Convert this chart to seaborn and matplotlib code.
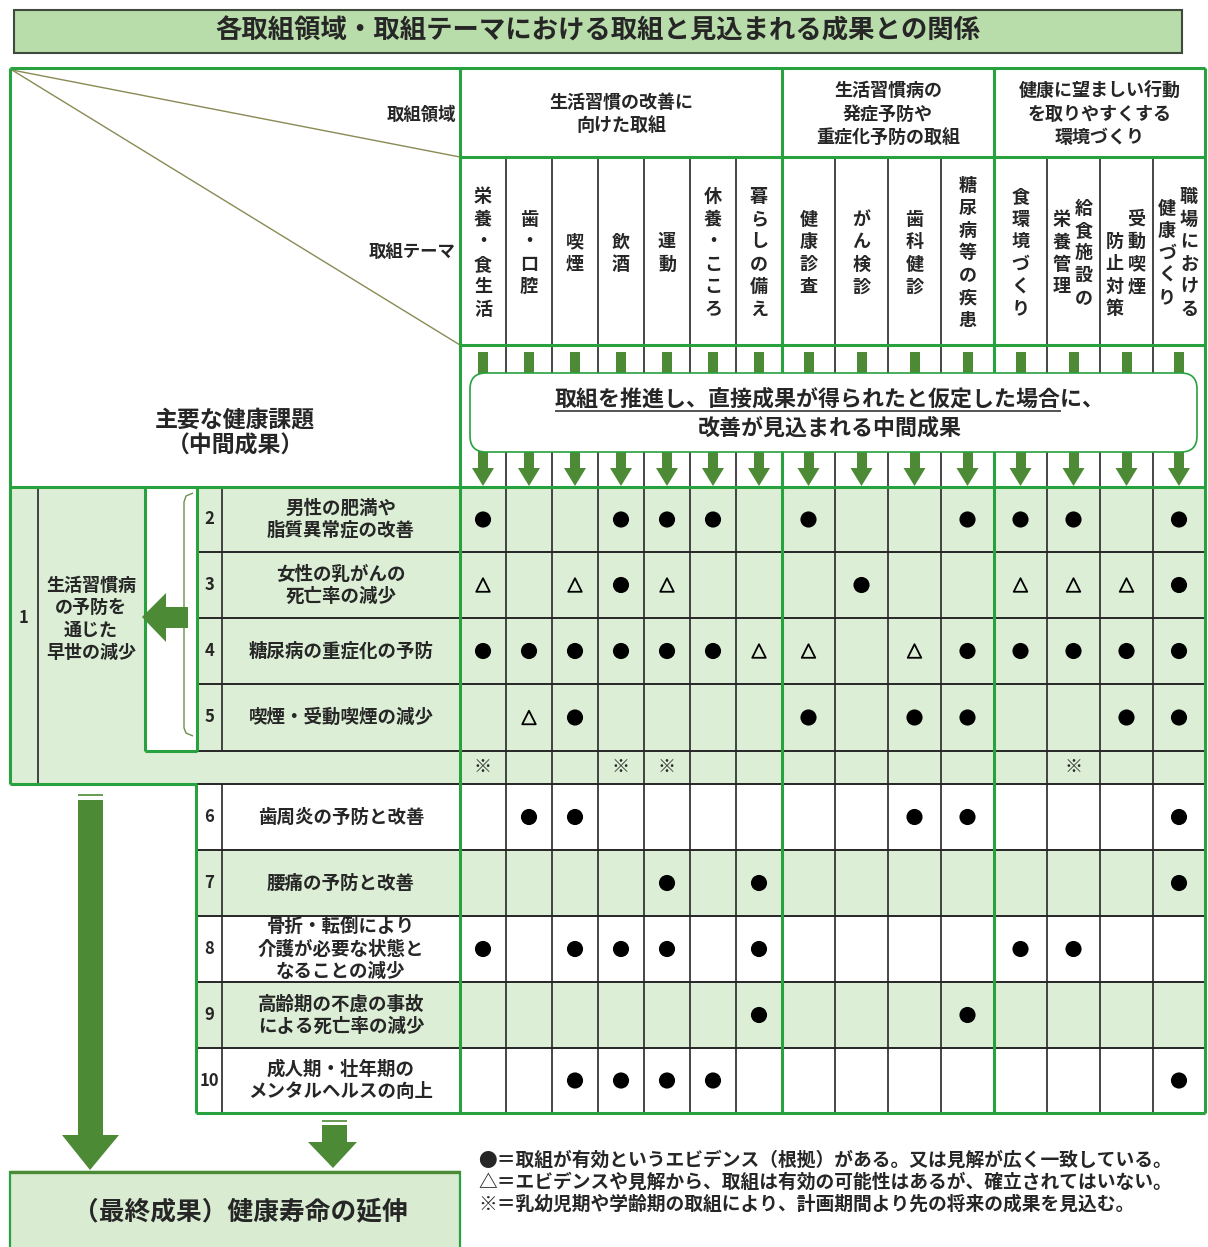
import matplotlib
matplotlib.use('Agg')
import matplotlib.pyplot as plt
import matplotlib.patches as mpatches
import pandas as pd
import seaborn as sns

# ---- data ----
title = '各取組領域・取組テーマにおける取組と見込まれる成果との関係'
areas = ['生活習慣の改善に\n向けた取組',
         '生活習慣病の\n発症予防や\n重症化予防の取組',
         '健康に望ましい行動\nを取りやすくする\n環境づくり']
themes = ['栄養・食生活', '歯・口腔', '喫煙', '飲酒', '運動', '休養・こころ', '暮らしの備え',
          '健康診査', 'がん検診', '歯科健診', '糖尿病等の疾患',
          '食環境づくり', '給食施設の/栄養管理', '受動喫煙/防止対策', '職場における/健康づくり']
issue_no = ['2', '3', '4', '5', '', '6', '7', '8', '9', '10']
issues = ['男性の肥満や\n脂質異常症の改善',
          '女性の乳がんの\n死亡率の減少',
          '糖尿病の重症化の予防',
          '喫煙・受動喫煙の減少',
          '',
          '歯周炎の予防と改善',
          '腰痛の予防と改善',
          '骨折・転倒により\n介護が必要な状態と\nなることの減少',
          '高齢期の不慮の事故\nによる死亡率の減少',
          '成人期・壮年期の\nメンタルヘルスの向上']
# one string per row, one char per theme column ('-' = empty)
marks = ['●--●●●-●--●●●-●',
         '△-△●△---●--△△△●',
         '●●●●●●△△-△●●●●●',
         '-△●----●-●●--●●',
         '※--※※-------※--',
         '-●●------●●---●',
         '----●-●-------●',
         '●-●●●-●----●●--',
         '------●---●----',
         '--●●●●--------●']
goal1 = '生活習慣病\nの予防を\n通じた\n早世の減少'
final_goal = '（最終成果）健康寿命の延伸'
legend_lines = ['●＝取組が有効というエビデンス（根拠）がある。又は見解が広く一致している。',
                '△＝エビデンスや見解から、取組は有効の可能性はあるが、確立されてはいない。',
                '※＝乳幼児期や学齢期の取組により、計画期間より先の将来の成果を見込む。']

# ---- layout ----
col_edges = [460, 506, 552, 598, 644, 690, 736, 782, 835, 888, 941, 994, 1047, 1100, 1153, 1205]
row_edges = [487, 552, 618, 684, 751, 784, 850, 916, 982, 1048, 1113]
area_cols = [(0, 7), (7, 11), (11, 15)]
green_rows = [0, 2, 4, 6, 8]

GREEN = '#27a23f'
DARK = '#4d8a35'
FILL = '#dcefd6'
INK = '#262626'
W = 'bold'

sns.set_theme(style='white')
plt.rcParams['font.family'] = ['Noto Sans CJK JP', 'DejaVu Sans']

fig = plt.figure(figsize=(12.08, 12.47), dpi=100)
ax = fig.add_axes([0, 0, 1, 1])
ax.set_xlim(0, 1208)
ax.set_ylim(1247, 0)
ax.axis('off')

def rect(x0, y0, x1, y1, fc='none', ec='none', lw=0, z=1):
    ax.add_patch(mpatches.Rectangle((x0, y0), x1 - x0, y1 - y0, facecolor=fc,
                                    edgecolor=ec, linewidth=lw, zorder=z))

def line(xs, ys, c=INK, lw=1.0, z=3):
    ax.plot(xs, ys, color=c, lw=lw, zorder=z, solid_capstyle='butt')

# title
rect(14, 10, 1182, 53, fc='#b8dcaa', ec='#3e4a3c', lw=1.5)
ax.text(598, 31, title, ha='center', va='center', fontsize=19, fontweight='bold', color=INK)

# row fills
for r in green_rows:
    rect(197, row_edges[r], 1205, row_edges[r + 1], fc=FILL)
rect(10, 487, 1205, 784, fc=FILL, z=0.5)
rect(145, 487, 197, 751, fc='white', z=0.8)

col_cx = [(a + b) / 2 for a, b in zip(col_edges[:-1], col_edges[1:])]
row_cy = [(a + b) / 2 for a, b in zip(row_edges[:-1], row_edges[1:])]

# header diagonals
line([12, 460], [70, 157], c='#8a8a55', lw=1.0)
line([12, 460], [70, 345], c='#8a8a55', lw=1.0)
ax.text(456, 115, '取組領域', ha='right', va='center', fontsize=12.5, fontweight=W, color=INK)
ax.text(456, 252, '取組テーマ', ha='right', va='center', fontsize=12.5, fontweight=W, color=INK)
ax.text(235, 420, '主要な健康課題', ha='center', va='center', fontsize=16.5, fontweight=W, color=INK)
ax.text(235, 446, '（中間成果）', ha='center', va='center', fontsize=16.5, fontweight=W, color=INK)

# area headers
for (a, b), name in zip(area_cols, areas):
    cx = (col_edges[a] + col_edges[b]) / 2
    ax.text(cx, 114, name, ha='center', va='center', fontsize=13, fontweight=W,
            color=INK, linespacing=1.32)

# vertical theme labels
step = 22.5
for i, th in enumerate(themes):
    cx = col_cx[i]
    parts = th.split('/')
    if len(parts) == 1:
        offs = [(cx, parts[0], 0)]
    else:
        shift = 22 if parts[1] == '防止対策' else 0
        offs = [(cx + 10, parts[0], 0), (cx - 12, parts[1], shift)]
    for x, txt, sh in offs:
        n = len(txt)
        y0 = 253 - (n - 1) * step / 2 + sh
        for k, ch in enumerate(txt):
            ax.text(x, y0 + k * step, ch, ha='center', va='center', fontsize=13,
                    fontweight=W, color=INK)

# arrow band: small down arrows per column
for cx in col_cx:
    rect(cx - 5, 352, cx + 5, 374, fc=DARK, z=2)
    rect(cx - 5, 450, cx + 5, 469, fc=DARK, z=2)
    ax.add_patch(mpatches.Polygon([(cx - 11, 468), (cx + 11, 468), (cx, 486)],
                                  closed=True, fc=DARK, ec='none', zorder=2))
box = mpatches.FancyBboxPatch((470, 373), 727, 79, boxstyle='round,pad=0,rounding_size=16',
                              fc='white', ec=GREEN, lw=1.2, zorder=7)
ax.add_patch(box)
t1 = ax.text(830, 399, '取組を推進し、直接成果が得られたと仮定した場合に、', ha='center', va='center',
             fontsize=15.8, fontweight='bold', color=INK, zorder=8)
ax.text(830, 428, '改善が見込まれる中間成果', ha='center', va='center',
        fontsize=15.8, fontweight='bold', color=INK, zorder=8)

# grid lines (black)
for i, x in enumerate(col_edges[1:-1], start=1):
    if x in (782, 994):
        continue
    line([x, x], [157, 1113], lw=1.2, z=3)
for y in [552, 618, 684, 850, 916, 982, 1048]:
    line([197, 1205], [y, y], lw=1.4)
line([197, 1205], [751, 751], lw=1.4)
line([197, 1205], [784, 784], lw=1.4)
line([222, 222], [487, 751], lw=1.2)
line([222, 222], [784, 1113], lw=1.2)
line([38, 38], [487, 784], lw=1.2)

# green structure lines
for x in (460, 782, 994):
    line([x, x], [68, 1113], c=GREEN, lw=2.2, z=4)
line([10, 1205], [68, 68], c=GREEN, lw=2.2, z=4)
line([460, 1205], [157, 157], c=GREEN, lw=2.2, z=4)
line([460, 1205], [345, 345], c=GREEN, lw=2.2, z=4)
line([10, 1205], [487, 487], c=GREEN, lw=2.2, z=4)
line([10, 10], [68, 784], c=GREEN, lw=2.2, z=4)
line([1205, 1205], [68, 1113], c=GREEN, lw=2.2, z=4)
line([10, 197], [784, 784], c=GREEN, lw=2.2, z=4)
line([145, 145], [487, 751], c=GREEN, lw=2.2, z=4)
line([145, 197], [751, 751], c=GREEN, lw=2.2, z=4)
line([197, 197], [487, 751], c=GREEN, lw=2.2, z=4)
line([196, 196], [784, 1113], c=GREEN, lw=2.2, z=4)
line([196, 1205], [1113, 1113], c=GREEN, lw=2.2, z=4)

# bracket and left arrow
line([193, 186, 184, 184, 186, 193], [493, 496, 502, 728, 733, 736], c='#6b8f4e', lw=1.0, z=4)
ax.add_patch(mpatches.Polygon([(142, 617), (166, 593), (166, 607), (188, 607), (188, 628),
                               (166, 628), (166, 642)], closed=True, fc=DARK, ec='none', zorder=5))

# left block text
ax.text(24, 618, '1', ha='center', va='center', fontsize=12, fontweight=W, color=INK)
ax.text(91, 619, goal1, ha='center', va='center', fontsize=13, fontweight=W, color=INK,
        linespacing=1.22)

# issue labels
for i, (no, lab) in enumerate(zip(issue_no, issues)):
    if not lab:
        continue
    ax.text(209.5, row_cy[i], no, ha='center', va='center', fontsize=12, fontweight=W, color=INK)
    ax.text(341, row_cy[i], lab, ha='center', va='center', fontsize=13.3, fontweight=W,
            color=INK, linespacing=1.2)

# marks
recs = []
for r, s in enumerate(marks):
    for c, ch in enumerate(s):
        if ch != '-':
            recs.append({'x': col_cx[c], 'y': row_cy[r], 'mark': ch})
df = pd.DataFrame(recs)
sns.scatterplot(data=df[df['mark'] == '●'], x='x', y='y', ax=ax, marker='o', s=135,
                color='black', edgecolor='none', legend=False, zorder=6)
sns.scatterplot(data=df[df['mark'] == '△'], x='x', y='y', ax=ax, marker='^', s=95,
                facecolor='none', edgecolor='black', linewidth=1.3, legend=False, zorder=6)
for _, rw in df[df['mark'] == '※'].iterrows():
    ax.text(rw['x'], rw['y'], '※', ha='center', va='center', fontsize=13, color=INK, zorder=6)
ax.set_xlim(0, 1208)
ax.set_ylim(1247, 0)
ax.set_xlabel('')
ax.set_ylabel('')

# big down arrows
line([78, 103], [795, 795], c=DARK, lw=1.2)
rect(78, 800, 103, 1136, fc=DARK, z=2)
ax.add_patch(mpatches.Polygon([(62, 1135), (119, 1135), (90, 1170)], closed=True,
                              fc=DARK, ec='none', zorder=2))
line([322, 347], [1121, 1121], c=DARK, lw=1.2)
rect(322, 1125, 347, 1143, fc=DARK, z=2)
ax.add_patch(mpatches.Polygon([(308, 1142), (357, 1142), (333, 1168)], closed=True,
                              fc=DARK, ec='none', zorder=2))

# final outcome box
rect(10, 1172, 460, 1252, fc='#d9ecd2', ec=GREEN, lw=1.6)
line([10, 460], [1172, 1172], c=DARK, lw=2.4, z=4)
ax.text(240, 1212, final_goal, ha='center', va='center', fontsize=18.5, fontweight=W, color=INK)

# legend notes
for k, txt in enumerate(legend_lines):
    ax.text(478, 1160 + 22 * k, txt, ha='left', va='center', fontsize=13.5, fontweight=W,
            color=INK)

# underline for the first box line (except trailing "に、")
fig.canvas.draw()
rend = fig.canvas.get_renderer()
bb = t1.get_window_extent(rend)
tmp = ax.text(0, 0, 'に、', fontsize=15.8, fontweight='bold')
wsuf = tmp.get_window_extent(rend).width
tmp.remove()
inv = ax.transData.inverted()
(xa, _), (xb, _) = inv.transform([(bb.x0, bb.y0), (bb.x1 - wsuf, bb.y0)])
line([xa, xb], [411, 411], c=INK, lw=1.1, z=8)

fig.savefig('out.png', dpi=100)
